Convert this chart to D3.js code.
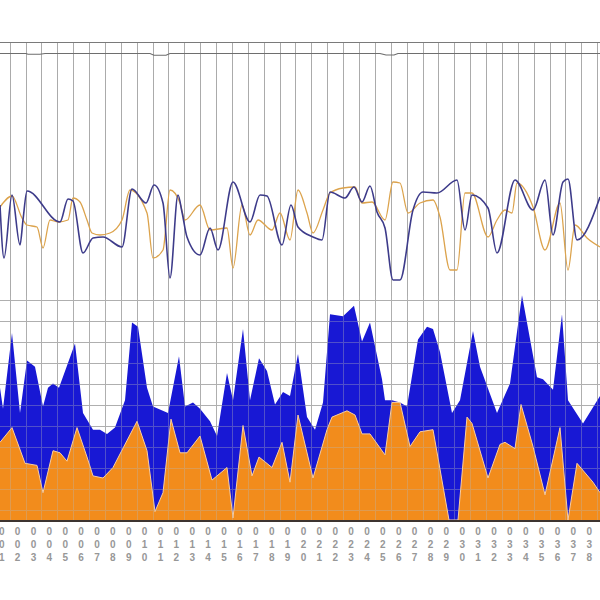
<!DOCTYPE html>
<html><head><meta charset="utf-8">
<script src="https://cdn.jsdelivr.net/npm/d3@7"></script>
<style>body{margin:0;background:#fff}svg{display:block}</style>
</head><body><svg id="c" width="600" height="600"></svg>
<script>
// category labels (one per band)
const categories = d3.range(1, 40).map(i => String(i).padStart(3, "0"));

// top strip series
const stripT = [0,6.5,7,10,11.25,37.5,38.5,41.5,42.5,95,96.5,98.5,99.5,150];
const stripV = [5.25,5.25,4.85,4.85,5.25,5.25,4.35,4.35,5.25,5.25,4.5,4.5,5.25,5.25];

// upper panel lines
const lineBlueT = [0,1,3,5,5.75,6.75,15,17,18.25,20.75,23.25,25.75,30.5,33,36.5,38.5,40.75,42.5,44.5,45.5,46.75,50,52.5,54.5,58.25,62.5,65,66.75,70.5,72.75,74.5,78.25,80.5,82.5,86.25,88.5,90.5,92.5,94.25,96.25,98.25,100,103.25,105.75,109.25,114.25,116.25,118,122,124.25,128.75,133.25,136.25,138.25,140.75,142,144.25,150];
const lineBlueV = [85,32,95,45,70,99,68,91,89,37,52,53,43,101,87,105,87,12,95,78,53,35,62,40,108,68,95,94,45,85,63,53,50,98,92,103,88,104,78,62,10,10,80,98,97,110,60,95,82,37,110,80,110,55,108,111,50,93];
const lineOrangeT = [0,3,5.5,6.75,9.25,10.75,12.5,14.5,17,18.25,20,21.75,23,25,27.5,30.5,32.5,36.75,38.25,40.75,42.5,45,46.25,50,52.5,56.75,58.25,60.5,62.5,64.5,68,70,72.5,74.5,76.75,78.25,80.75,82.5,85.75,88.75,90.5,93,96.25,98.25,100,102,105,108.25,110,112.5,114.25,116.25,118,122,124.25,126.25,128,129.25,133.25,136.25,140,142,143.75,146.75,150];
const lineOrangeV = [83,94,72,65,63,42,70,68,70,92,88,70,57,55,57,70,100,77,32,40,100,87,70,85,60,62,22,85,55,70,60,77,50,100,77,57,80,97,102,103,87,88,70,108,107,77,87,90,73,20,20,97,97,53,70,80,77,107,83,40,87,20,65,52,43];

// lower panel areas
const areaBlueT = [0,0.75,3,5,6.75,8.75,10.75,12,13.25,14.75,18.75,20.75,23.25,25,26.75,28.75,31.25,33,34.5,36.75,38.25,42,44.75,46.25,48.25,50,52.5,54.25,56.75,58.25,60.75,62.5,64.75,66.75,68.75,70.75,72.5,74.5,76.75,78.75,80.75,82.5,85.75,88.5,90.5,92.5,95.5,96.25,98,100,101.75,104.5,106.75,108.25,110,113,115,118.25,120,124.25,127.5,130.5,134.25,135.75,138.25,140.5,142,145.75,150];
const areaBlueV = [63,53,89,51,76,73,54,63,65,63,84,51,43,43,41,44,57,94,92,63,54,51,78,54,56,53,47,40,70,57,91,57,77,71,55,61,59,79,49,43,56,98,97,102,85,94,67,57,57,56,54,86,92,91,80,51,57,90,73,51,65,107,68,67,62,98,57,46,59];
const areaOrangeT = [0,3,6.25,9.25,10.75,13.25,15,16.75,19.25,21.75,23.25,25.75,28.25,34.25,36.75,38.75,40.75,42.75,45,46.75,50,53,56.75,58.25,60.75,63,64.75,68,70.5,72.5,74.5,78.25,81.75,83,86.75,88.75,90.5,92.5,96.25,98,100,102.5,105,108.25,112.25,114.5,116.75,118,122,125,126.25,128.75,130.25,133.25,136.25,140,142,144.25,148.25,150];
const areaOrangeV = [37,44,27,26,13,33,32,28,44,30,21,20,25,47,33,4,13,48,32,32,40,19,25,1,45,21,30,25,37,18,50,20,43,49,52,50,41,41,31,56,56,35,42,43,0,0,49,46,20,36,37,34,55,35,12,44,0,27,18,13];

const gridValues = d3.range(5, 106, 10);

const zip = (T, V) => T.map((t, i) => ({t, v: V[i]}));

const svg = d3.select("#c");
const W = 600;

const xBand = d3.scaleBand().domain(categories).range([-6.24, -6.24 + 39 * 15.88]).padding(0);
const xT = d3.scaleLinear().domain([0, 150]).range([0, 600]);
const yStrip = d3.scaleLinear().domain([0, 10]).range([64, 44]);
const yTop = d3.scaleLinear().domain([0, 120]).range([290, 170]);
const yLow = d3.scaleLinear().domain([0, 110]).range([520, 289]);

svg.append("defs").append("clipPath").attr("id", "clip")
  .append("rect").attr("x", 0).attr("y", 0).attr("width", W).attr("height", 600);
const g = svg.append("g").attr("clip-path", "url(#clip)");

const crisp = v => Math.round(v) + 0.5;
const bw = xBand.bandwidth();

// vertical gridlines
g.append("g").selectAll("line").data(categories).join("line")
  .attr("x1", d => crisp(xBand(d))).attr("x2", d => crisp(xBand(d)))
  .attr("y1", 42).attr("y2", 520)
  .attr("stroke", "#ababab").attr("stroke-width", 1);

// horizontal grid (lower panel)
g.append("g").selectAll("line").data(gridValues).join("line")
  .attr("x1", 0).attr("x2", W)
  .attr("y1", d => crisp(yLow(d))).attr("y2", d => crisp(yLow(d)))
  .attr("stroke", "#ababab").attr("stroke-width", 1);

// top frame line
g.append("line").attr("x1", 0).attr("x2", W).attr("y1", 42.5).attr("y2", 42.5)
  .attr("stroke", "#7a7a7a").attr("stroke-width", 1.2);

// strip line
g.append("path").datum(zip(stripT, stripV))
  .attr("fill", "none").attr("stroke", "#6e6e6e").attr("stroke-width", 1.1)
  .attr("d", d3.line().x(d => xT(d.t)).y(d => yStrip(d.v)));

// upper lines
const topLine = d3.line().x(d => xT(d.t)).y(d => yTop(d.v)).curve(d3.curveMonotoneX);
g.append("path").datum(zip(lineOrangeT, lineOrangeV))
  .attr("fill", "none").attr("stroke", "#dca34c").attr("stroke-width", 1.3)
  .attr("d", topLine);
g.append("path").datum(zip(lineBlueT, lineBlueV))
  .attr("fill", "none").attr("stroke", "#3d3b8a").attr("stroke-width", 1.6)
  .attr("d", topLine);

// lower areas
const lowArea = d3.area().x(d => xT(d.t)).y0(yLow(0)).y1(d => yLow(d.v));
g.append("path").datum(zip(areaBlueT, areaBlueV))
  .attr("fill", "#1818d4").attr("d", lowArea);
g.append("path").datum(zip(areaOrangeT, areaOrangeV))
  .attr("fill", "#f28c1c").attr("d", lowArea);
g.append("path").datum(zip(areaOrangeT, areaOrangeV))
  .attr("fill", "none").attr("stroke", "#fbcf9c").attr("stroke-width", 1)
  .attr("d", d3.line().x(d => xT(d.t)).y(d => yLow(d.v)));

// grid overlay on areas (semi-transparent)
const ov = g.append("g").attr("opacity", 0.35);
ov.selectAll("line.v").data(categories).join("line").attr("class", "v")
  .attr("x1", d => crisp(xBand(d))).attr("x2", d => crisp(xBand(d)))
  .attr("y1", 296).attr("y2", 520)
  .attr("stroke", "#b8b8b8").attr("stroke-width", 1);
ov.selectAll("line.h").data(gridValues).join("line").attr("class", "h")
  .attr("x1", 0).attr("x2", W)
  .attr("y1", d => crisp(yLow(d))).attr("y2", d => crisp(yLow(d)))
  .attr("stroke", "#b8b8b8").attr("stroke-width", 1);

// bottom axis line
g.append("line").attr("x1", 0).attr("x2", W).attr("y1", 521).attr("y2", 521)
  .attr("stroke", "#3d3430").attr("stroke-width", 2);

// tick labels: three stacked characters per band (only bands whose centre is inside the view)
const lab = g.append("g").attr("font-family", "Liberation Sans, Arial, sans-serif")
  .attr("font-size", 10).attr("font-weight", "bold").attr("fill", "#979797").attr("text-anchor", "middle");
categories.filter(c => xBand(c) + bw / 2 < 596).forEach(c => {
  const cx = xBand(c) + bw / 2;
  const t = lab.append("text").attr("x", cx);
  c.split("").forEach((ch, i) => {
    t.append("tspan").attr("x", cx).attr("y", 535 + i * 13).text(ch);
  });
});
</script></body></html>
